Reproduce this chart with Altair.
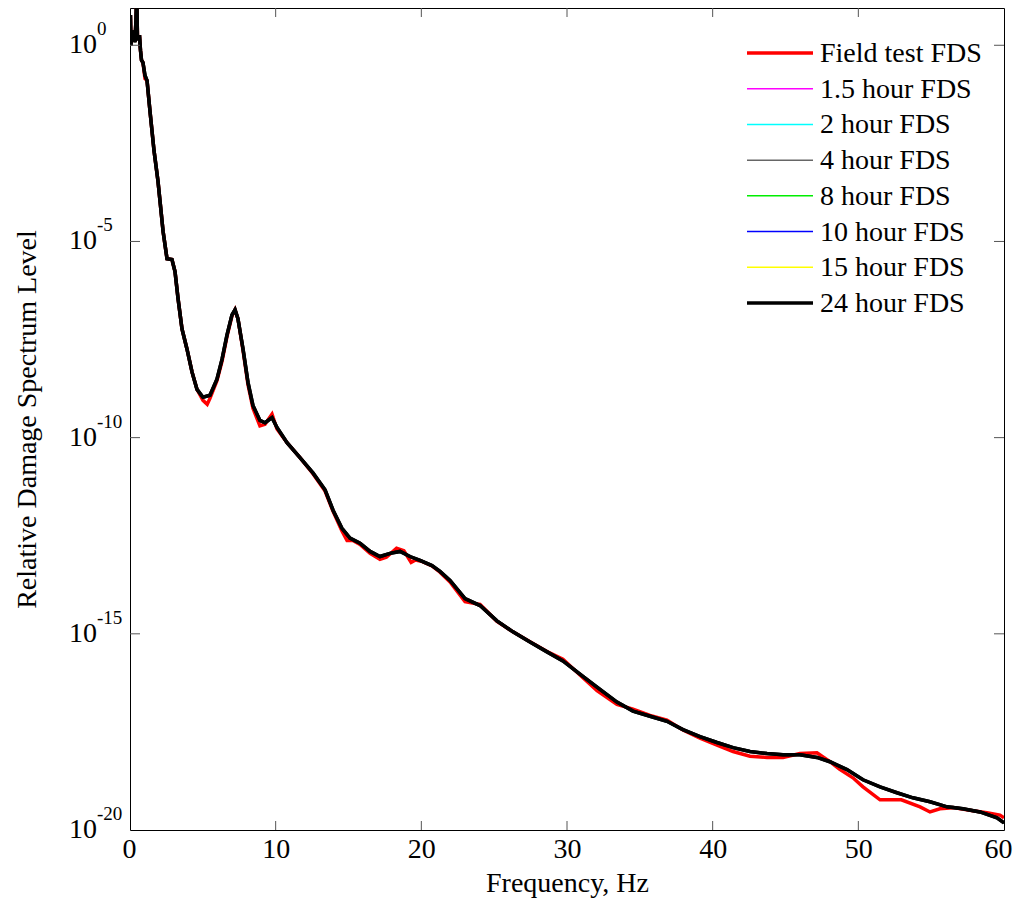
import altair as alt
import pandas as pd

# ---------------- data ----------------
series = ["Field test FDS", "1.5 hour FDS", "2 hour FDS", "4 hour FDS",
          "8 hour FDS", "10 hour FDS", "15 hour FDS", "24 hour FDS"]
colors = ["#ff0000", "#ff00ff", "#00ffff", "#666666",
          "#00ee00", "#0000ff", "#ffff00", "#000000"]
widths = [3.5, 1.5, 1.5, 1.5, 1.5, 1.5, 1.5, 3.5]

# simulated-test FDS curves (they all lie under the 24 hour curve)
freq_sim = [0.03, 0.07, 0.14, 0.21, 0.27, 0.34, 0.41, 0.46, 0.51, 0.58, 0.65,
            0.72, 0.79, 0.89, 1.03, 1.17, 1.37, 1.65, 1.92, 2.06, 2.27, 2.54,
            2.88, 3.09, 3.30, 3.57, 3.91, 4.26, 4.60, 5.01, 5.49, 5.97, 6.32,
            6.66, 7.00, 7.21, 7.41, 7.76, 8.10, 8.44, 8.92, 9.27, 9.75, 10.09,
            10.78, 11.67, 12.56, 13.39, 13.94, 14.55, 15.10, 15.79, 16.48,
            17.16, 17.85, 18.54, 19.22, 19.91, 20.73, 21.28, 21.97, 23.00,
            24.03, 25.19, 26.29, 27.46, 28.63, 29.72, 30.89, 32.06, 33.43,
            34.53, 35.70, 36.86, 37.96, 39.13, 40.30, 41.40, 42.56, 43.73,
            44.83, 45.99, 47.16, 48.05, 49.22, 50.32, 51.49, 52.65, 53.75,
            54.92, 56.09, 57.18, 58.35, 59.52, 60.00]
exp_sim = [0.77, 0.00, 0.38, 0.13, 0.31, 0.08, 0.64, 1.30, 0.26, 0.13, 0.26,
           -0.13, -0.38, -0.44, -0.77, -0.90, -1.67, -2.69, -3.46, -3.97,
           -4.74, -5.44, -5.46, -5.77, -6.46, -7.23, -7.74, -8.33, -8.77,
           -8.97, -8.92, -8.51, -8.00, -7.38, -6.87, -6.74, -6.97, -7.74,
           -8.59, -9.18, -9.56, -9.62, -9.49, -9.74, -10.13, -10.51, -10.90,
           -11.33, -11.85, -12.31, -12.56, -12.69, -12.90, -13.03, -12.95,
           -12.90, -13.03, -13.13, -13.26, -13.41, -13.64, -14.10, -14.28,
           -14.67, -14.95, -15.21, -15.46, -15.69, -16.03, -16.36, -16.74,
           -16.97, -17.10, -17.23, -17.44, -17.62, -17.77, -17.90, -18.00,
           -18.05, -18.08, -18.08, -18.15, -18.26, -18.46, -18.72, -18.90,
           -19.05, -19.18, -19.28, -19.41, -19.46, -19.54, -19.69, -19.82]

# field test FDS
freq_field = [0.03, 0.07, 0.14, 0.21, 0.27, 0.34, 0.41, 0.46, 0.51, 0.58, 0.65,
              0.72, 0.79, 0.89, 1.03, 1.17, 1.37, 1.65, 1.92, 2.06, 2.27, 2.54,
              2.88, 3.09, 3.30, 3.57, 3.91, 4.26, 4.60, 5.01, 5.30, 5.49, 5.97,
              6.32, 6.66, 7.00, 7.21, 7.41, 7.76, 8.10, 8.44, 8.92, 9.27, 9.75,
              10.09, 10.78, 11.67, 12.56, 13.39, 13.94, 14.55, 14.90, 15.30,
              15.79, 16.48, 17.16, 17.60, 18.30, 18.80, 19.30, 19.60, 20.00,
              20.73, 21.28, 21.97, 23.00, 23.70, 24.03, 25.19, 26.29, 27.46,
              28.63, 29.72, 30.89, 32.06, 33.43, 34.53, 35.70, 36.86, 37.96,
              39.13, 40.30, 41.40, 42.56, 43.73, 44.83, 45.99, 47.16, 48.05,
              48.70, 49.63, 50.32, 51.49, 52.95, 54.24, 54.92, 55.60, 56.50,
              57.87, 58.83, 59.72, 60.00]
exp_field = [0.77, 0.00, 0.38, 0.13, 0.31, 0.08, 0.64, 1.30, 0.26, 0.13, 0.26,
             -0.13, -0.38, -0.44, -0.85, -0.90, -1.67, -2.69, -3.46, -3.97,
             -4.74, -5.44, -5.46, -5.77, -6.46, -7.23, -7.74, -8.33, -8.77,
             -9.05, -9.15, -9.00, -8.55, -8.05, -7.42, -6.90, -6.74, -6.97,
             -7.78, -8.65, -9.25, -9.70, -9.66, -9.40, -9.78, -10.13, -10.51,
             -10.92, -11.36, -11.88, -12.38, -12.62, -12.62, -12.72, -12.95,
             -13.10, -13.05, -12.82, -12.88, -13.18, -13.12, -13.15, -13.27,
             -13.43, -13.68, -14.18, -14.23, -14.25, -14.68, -14.95, -15.20,
             -15.45, -15.65, -16.05, -16.45, -16.80, -16.92, -17.08, -17.20,
             -17.45, -17.66, -17.84, -18.00, -18.12, -18.15, -18.15, -18.05,
             -18.03, -18.26, -18.45, -18.67, -18.90, -19.23, -19.23, -19.41,
             -19.54, -19.46, -19.43, -19.51, -19.56, -19.62, -19.69]

x_ticks = [10, 20, 30, 40, 50]
x_labels = [0, 10, 20, 30, 40, 50, 60]
y_ticks = [1e0, 1e-5, 1e-10, 1e-15]
y_label_vals = [1e0, 1e-5, 1e-10, 1e-15, 1e-20]
y_label_exps = ["0", "-5", "-10", "-15", "-20"]

# ---------------- tables ----------------
rows = []
for s in series:
    if s == "Field test FDS":
        fx, fe = freq_field, exp_field
    else:
        fx, fe = freq_sim, exp_sim
    for f, e in zip(fx, fe):
        rows.append({"s": s, "f": f, "v": 10.0 ** e})
df = pd.DataFrame(rows)
df_top = df[df["s"] == "24 hour FDS"]

df_xt = pd.DataFrame({"f": x_ticks})
df_yt = pd.DataFrame({"v": y_ticks})
df_yl = pd.DataFrame({"v": y_label_vals, "base": ["10"] * len(y_label_vals),
                      "e": y_label_exps})
df_leg = pd.DataFrame({"s": series, "idx": list(range(len(series)))})

W, H = 874, 822
FONT = "Liberation Serif"

xscale = alt.Scale(domain=[0, 60], nice=False, zero=False)
yscale = alt.Scale(type="log", domain=[1e-20, 10 ** 0.95], nice=False)
cscale = alt.Scale(domain=series, range=colors)
wscale = alt.Scale(type="ordinal", domain=series, range=widths)
legscale = alt.Scale(domain=[0, len(series) - 1], range=[45, 295],
                     nice=False, zero=False)

xaxis = alt.Axis(values=x_labels, format="d", grid=False, domain=False,
                 ticks=False, tickSize=0, labelPadding=5, labelFont=FONT,
                 labelFontSize=28, labelColor="black", labelFlush=True,
                 labelFlushOffset=8, labelOverlap=False,
                 title="Frequency, Hz", titleFont=FONT, titleFontSize=28,
                 titleFontWeight="normal", titleColor="black",
                 titleY=61, titleBaseline="alphabetic")
yaxis = alt.Axis(labels=False, grid=False, domain=False, ticks=False,
                 tickSize=0, title="Relative Damage Spectrum Level",
                 titleFont=FONT, titleFontSize=28, titleFontWeight="normal",
                 titleColor="black", titleX=-103, titleY=H / 2,
                 titleAngle=-90, titleAlign="center", titleBaseline="middle")

X = alt.X("f:Q", scale=xscale, axis=xaxis)
Y = alt.Y("v:Q", scale=yscale, axis=yaxis)
Yn = alt.Y("v:Q", scale=yscale, axis=None)

lines = alt.Chart(df).mark_line(clip=True).encode(
    x=X, y=Y,
    color=alt.Color("s:N", scale=cscale, legend=None),
    strokeWidth=alt.StrokeWidth("s:N", scale=wscale, legend=None),
)

# 24 hour curve drawn once more on top, as in the reference
top_line = alt.Chart(df_top).mark_line(clip=True, color="black",
                                       strokeWidth=3.5).encode(x=X, y=Yn)

tick_col = "#555555"
xt_bot = alt.Chart(df_xt).mark_rule(color=tick_col, strokeWidth=1).encode(
    x=X, y=alt.value(H), y2=alt.value(H - 9))
xt_top = alt.Chart(df_xt).mark_rule(color=tick_col, strokeWidth=1).encode(
    x=X, y=alt.value(0), y2=alt.value(9))
yt_left = alt.Chart(df_yt).mark_rule(color=tick_col, strokeWidth=1).encode(
    y=Yn, x=alt.value(0), x2=alt.value(10))
yt_right = alt.Chart(df_yt).mark_rule(color=tick_col, strokeWidth=1).encode(
    y=Yn, x=alt.value(W), x2=alt.value(W - 10))

lab_base = alt.Chart(df_yl).mark_text(
    align="right", baseline="middle", font=FONT, fontSize=28, color="black"
).encode(y=Yn, x=alt.value(-33), text="base:N")
lab_exp = alt.Chart(df_yl).mark_text(
    align="left", baseline="middle", font=FONT, fontSize=19, color="black",
    dy=-16
).encode(y=Yn, x=alt.value(-33), text="e:N")

# legend, drawn inside the plot at the upper right
leg_lines = alt.Chart(df_leg).mark_rule().encode(
    y=alt.Y("idx:Q", scale=legscale, axis=None),
    x=alt.value(617), x2=alt.value(683),
    color=alt.Color("s:N", scale=cscale, legend=None),
    strokeWidth=alt.StrokeWidth("s:N", scale=wscale, legend=None),
)
leg_text = alt.Chart(df_leg).mark_text(
    align="left", baseline="middle", font=FONT, fontSize=28, color="black",
    dy=1
).encode(
    y=alt.Y("idx:Q", scale=legscale, axis=None),
    x=alt.value(690), text="s:N",
)

chart = alt.layer(lines, top_line, xt_bot, xt_top, yt_left, yt_right,
                  lab_base, lab_exp, leg_lines, leg_text
).resolve_scale(y="independent").properties(
    width=W, height=H,
    autosize=alt.AutoSizeParams(type="none"),
    padding={"left": 122, "top": 0, "right": 9, "bottom": 71},
    background="white",
).configure_view(stroke="black", strokeWidth=1)

chart.save("out.html", embed_options={"renderer": "svg", "actions": False})
